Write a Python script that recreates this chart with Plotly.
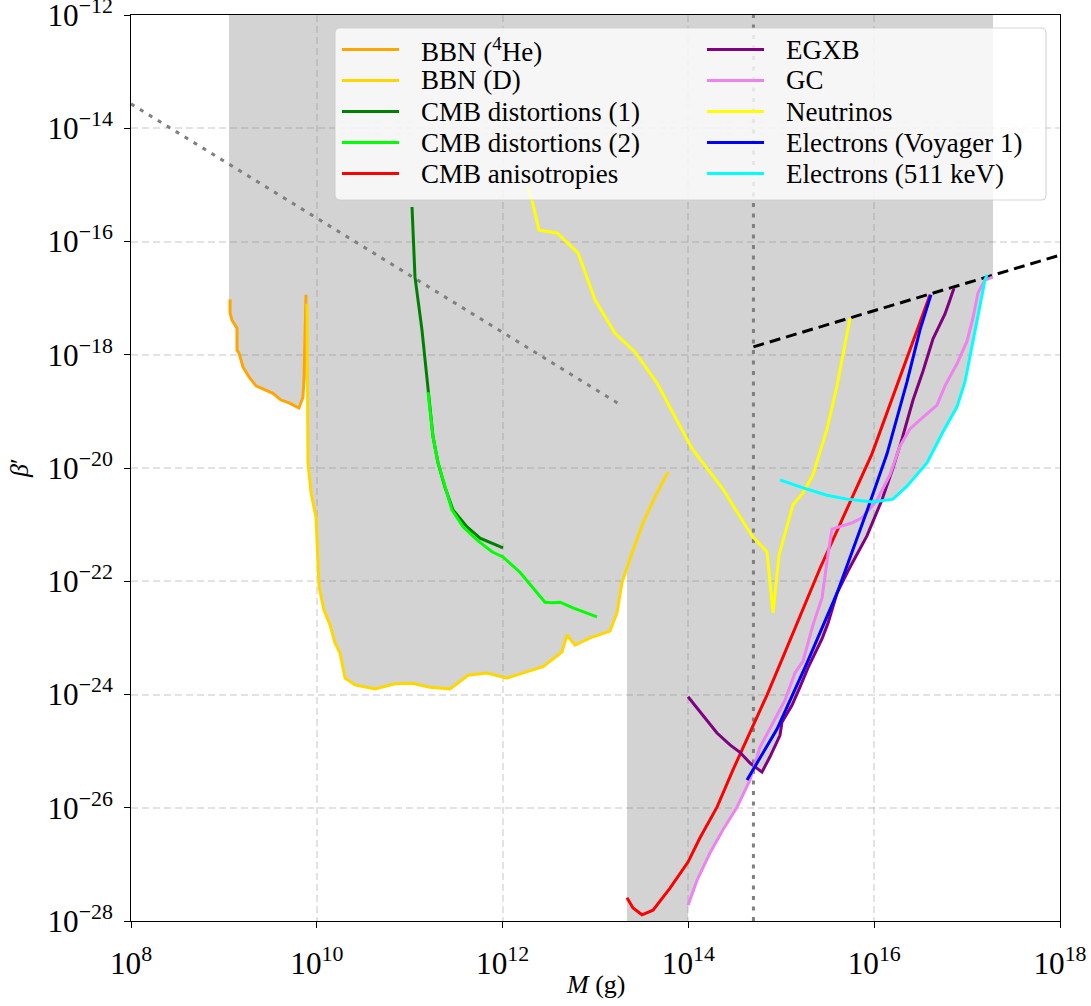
import numpy as np
import plotly.graph_objects as go

# ---- data (log10 M [g], log10 beta') ----
he4_logM = [9.066, 9.066, 9.087, 9.141, 9.141, 9.163, 9.206, 9.270, 9.346, 9.528, 9.615, 9.701, 9.808, 9.851, 9.862, 9.884]
he4_logB = [-17.02, -17.26, -17.39, -17.53, -17.92, -17.97, -18.22, -18.39, -18.55, -18.68, -18.80, -18.85, -18.94, -18.75, -18.45, -16.94]

d_logM = [9.894, 9.905, 9.938, 9.991, 10.024, 10.077, 10.142, 10.196, 10.250, 10.304, 10.411, 10.626, 10.842, 11.025,
          11.218, 11.434, 11.628, 11.832, 12.047, 12.435, 12.639, 12.693, 12.779, 12.941, 13.156, 13.231, 13.285, 13.404,
          13.511, 13.640, 13.780]
d_logB = [-17.10, -19.91, -20.44, -20.87, -22.10, -22.51, -22.77, -23.09, -23.27, -23.71, -23.83, -23.90, -23.81, -23.80,
          -23.87, -23.90, -23.66, -23.62, -23.71, -23.51, -23.25, -22.95, -23.13, -23.00, -22.88, -22.56, -22.03, -21.45,
          -20.97, -20.51, -20.07]

cmb1_logM = [11.025, 11.057, 11.132, 11.197, 11.251, 11.305, 11.380, 11.466, 11.617, 11.757, 12.004]
cmb1_logB = [-15.39, -16.63, -17.56, -18.62, -19.45, -19.91, -20.34, -20.74, -21.04, -21.24, -21.41]

cmb2_logM = [11.197, 11.251, 11.305, 11.455, 11.574, 11.724, 11.886, 12.004, 12.187, 12.370, 12.456, 12.532, 12.618, 12.758, 13.016]
cmb2_logB = [-18.66, -19.45, -19.91, -20.74, -21.04, -21.27, -21.48, -21.57, -21.84, -22.21, -22.37, -22.38, -22.37, -22.47, -22.63]

aniso_logM = [13.339, 13.404, 13.501, 13.619, 13.802, 13.996, 14.125, 14.308, 14.480, 14.663, 14.846, 15.018, 15.201, 15.417, 15.976, 16.601]
aniso_logB = [-27.59, -27.77, -27.89, -27.81, -27.42, -26.96, -26.53, -25.99, -25.33, -24.68, -24.01, -23.34, -22.63, -21.77, -19.75, -16.94]

egxb_logM = [13.996, 14.092, 14.200, 14.308, 14.448, 14.555, 14.663, 14.792, 14.878, 14.986, 15.007, 15.115, 15.201, 15.287,
             15.438, 15.503, 15.600, 15.718, 15.922, 16.084, 16.202, 16.299, 16.418, 16.525, 16.633, 16.762, 16.816, 16.859]
egxb_logB = [-24.04, -24.24, -24.45, -24.68, -24.89, -25.02, -25.21, -25.37, -25.10, -24.72, -24.49, -24.19, -23.87, -23.53,
             -23.02, -22.74, -22.21, -21.82, -21.20, -20.56, -20.00, -19.49, -18.80, -18.29, -17.72, -17.28, -17.03, -16.82]

gc_logM = [13.996, 14.093, 14.232, 14.372, 14.523, 14.663, 14.771, 14.911, 15.040, 15.147, 15.234, 15.341, 15.438, 15.503,
           15.546, 15.761, 15.869, 16.030, 16.170, 16.278, 16.385, 16.493, 16.676, 16.762, 16.891, 16.999, 17.063, 17.117,
           17.192, 17.279]
gc_logB = [-27.72, -27.28, -26.80, -26.39, -25.99, -25.51, -24.93, -24.50, -24.10, -23.62, -23.41, -22.77, -22.30, -21.52,
           -21.08, -20.97, -20.88, -20.57, -20.12, -19.61, -19.31, -19.15, -18.89, -18.55, -18.16, -17.76, -17.35, -16.91,
           -16.68, -16.63]

nu_logM = [12.263, 12.316, 12.392, 12.586, 12.812, 12.995, 13.210, 13.425, 13.662, 13.888, 14.039, 14.362, 14.685, 14.846,
           14.911, 14.975, 15.126, 15.234, 15.341, 15.492, 15.600, 15.740]
nu_logB = [-15.02, -15.27, -15.80, -15.85, -16.20, -17.03, -17.62, -17.95, -18.50, -19.21, -19.66, -20.35, -21.20, -21.48,
           -22.56, -21.54, -20.65, -20.44, -20.12, -19.31, -18.55, -17.35]

voy_logM = [14.631, 14.954, 15.277, 15.600, 15.922, 16.138, 16.353, 16.493, 16.611]
voy_logB = [-25.51, -24.61, -23.44, -22.21, -20.76, -19.75, -18.48, -17.56, -16.94]

kev_logM = [14.986, 15.234, 15.492, 15.707, 15.987, 16.202, 16.353, 16.568, 16.741, 16.891, 16.977, 17.031, 17.085, 17.139, 17.193, 17.214]
kev_logB = [-20.21, -20.35, -20.48, -20.55, -20.60, -20.55, -20.32, -19.91, -19.36, -18.92, -18.48, -18.04, -17.60, -17.10, -16.68, -16.59]

# reference lines
evap_logM = [14.70, 14.70]
evap_logB = [-28.0, -12.0]
diag_logM = [8.0, 13.285]
diag_logB = [-13.57, -18.90]
dash_logM = [14.70, 18.0]
dash_logB = [-17.86, -16.24]

# edges of the excluded (grey) region
fill_left_logM = 9.055
fill_gap_logM = 13.339
fill_right_logM = 17.279
y_top, y_bot = -12.0, -28.0

x_title = "<i>M</i> (g)"
y_title = "<i>β</i>′"

series = [
    ("BBN (<sup>4</sup>He)", he4_logM, he4_logB, "#FFA500"),
    ("BBN (D)", d_logM, d_logB, "#FFD700"),
    ("CMB distortions (1)", cmb1_logM, cmb1_logB, "#008000"),
    ("CMB distortions (2)", cmb2_logM, cmb2_logB, "#00FF00"),
    ("CMB anisotropies", aniso_logM, aniso_logB, "#FF0000"),
    ("EGXB", egxb_logM, egxb_logB, "#800080"),
    ("GC", gc_logM, gc_logB, "#EE82EE"),
    ("Neutrinos", nu_logM, nu_logB, "#FFFF00"),
    ("Electrons (Voyager 1)", voy_logM, voy_logB, "#0000FF"),
    ("Electrons (511 keV)", kev_logM, kev_logB, "#00FFFF"),
]

def p10(a):
    return [10.0 ** v for v in a]

# ---- excluded-region polygon, built in log space from the curves ----
poly = [(fill_left_logM, y_top), (fill_left_logM, he4_logB[0])]
for m, b in zip(he4_logM[:15], he4_logB[:15]):
    poly.append((m, b))
poly.append((d_logM[1] - 0.005, he4_logB[14]))
for m, b in zip(d_logM[1:], d_logB[1:]):
    if m < fill_gap_logM:
        poly.append((m, b))
poly.append((fill_gap_logM, float(np.interp(fill_gap_logM, d_logM, d_logB))))
poly.append((fill_gap_logM, y_bot))
poly.append((gc_logM[0], y_bot))
grid = np.linspace(gc_logM[0], fill_right_logM, 3000)
env_curves = [(gc_logM, gc_logB), (egxb_logM, egxb_logB), (voy_logM, voy_logB), (kev_logM, kev_logB), (aniso_logM, aniso_logB)]
stack = np.vstack([np.interp(grid, m, b, left=np.inf, right=np.inf) for m, b in env_curves])
env = stack.min(axis=0)
for m, b in zip(grid, env):
    poly.append((float(m), float(b)))
poly.append((fill_right_logM, y_top))
path = "M " + " L ".join(f"{10**m:.6e},{10**b:.6e}" for m, b in poly) + " Z"

W, H = 1091, 1006
ML, MR, MT, MB = 131, 31, 15, 85
PW, PH = W - ML - MR, H - MT - MB

def px(x):
    return (x - ML) / PW

def py(y):
    return 1 - (y - MT) / PH

fig = go.Figure()

fig.add_shape(type="path", path=path, xref="x", yref="y", layer="below",
              fillcolor="#d3d3d3", line=dict(width=0))

# reference lines
fig.add_trace(go.Scatter(x=p10(diag_logM), y=p10(diag_logB), mode="lines", showlegend=False, hoverinfo="skip",
                         line=dict(color="#808080", width=3, dash="4px,6.5px")))
fig.add_trace(go.Scatter(x=p10(evap_logM), y=p10(evap_logB), mode="lines", showlegend=False, hoverinfo="skip",
                         line=dict(color="#808080", width=3, dash="4px,6.5px")))
fig.add_trace(go.Scatter(x=p10(dash_logM), y=p10(dash_logB), mode="lines", showlegend=False, hoverinfo="skip",
                         line=dict(color="#000000", width=3, dash="11px,6px")))

for name, lm, lb, col in series:
    fig.add_trace(go.Scatter(x=p10(lm), y=p10(lb), mode="lines", name=name, showlegend=False,
                             line=dict(color=col, width=3)))

font_family = "Liberation Serif"

# ---- legend box (two columns, like the reference) ----
bx0, bx1, by0, by1, r = 335, 1046, 28, 200, 5
rx, ry = r / PW, r / PH
X0, X1, Y0, Y1 = px(bx0), px(bx1), py(by0), py(by1)
legend_path = (f"M {X0+rx},{Y0} L {X1-rx},{Y0} Q {X1},{Y0} {X1},{Y0-ry} L {X1},{Y1+ry} Q {X1},{Y1} {X1-rx},{Y1} "
               f"L {X0+rx},{Y1} Q {X0},{Y1} {X0},{Y1+ry} L {X0},{Y0-ry} Q {X0},{Y0} {X0+rx},{Y0} Z")
fig.add_shape(type="path", path=legend_path, xref="paper", yref="paper", layer="above",
              fillcolor="rgba(255,255,255,0.8)", line=dict(color="rgba(204,204,204,0.8)", width=1.2))
row_y = [49.5, 80.5, 111.5, 142.5, 173.5]
col_line = [(342, 399), (707, 764)]
col_text = [419, 784]
for i, (name, lm, lb, col) in enumerate(series):
    c, rr = divmod(i, 5)
    yy = py(row_y[rr])
    fig.add_shape(type="line", xref="paper", yref="paper", layer="above",
                  x0=px(col_line[c][0]), x1=px(col_line[c][1]), y0=yy, y1=yy,
                  line=dict(color=col, width=3))
    fig.add_annotation(x=px(col_text[c]), y=yy, xref="paper", yref="paper", text=name, showarrow=False,
                       xanchor="left", yanchor="middle", font=dict(family=font_family, size=27, color="black"))

# axis titles
fig.add_annotation(x=0.5, y=py(985), xref="paper", yref="paper", text=x_title, showarrow=False,
                   xanchor="center", yanchor="middle", font=dict(family=font_family, size=26, color="black"))
fig.add_annotation(x=px(19), y=0.5, xref="paper", yref="paper", text=y_title, showarrow=False, textangle=-90,
                   xanchor="center", yanchor="middle", font=dict(family=font_family, size=26, color="black"))

axis_common = dict(
    type="log", showline=True, mirror=True, linecolor="black", linewidth=1.2,
    ticks="outside", ticklen=6, tickwidth=1.2, tickcolor="black",
    dtick=2, exponentformat="power", showexponent="all", automargin=False,
    showgrid=True, gridcolor="rgba(128,128,128,0.22)", gridwidth=1.6, griddash="7px,4px",
    zeroline=False, tickfont=dict(family=font_family, size=25, color="black"),
    ticklabeloverflow="allow",
)

fig.update_layout(
    width=W, height=H,
    margin=dict(l=ML, r=MR, t=MT, b=MB),
    plot_bgcolor="white", paper_bgcolor="white",
    font=dict(family=font_family, color="black"),
    showlegend=False,
    xaxis=dict(range=[8, 18], ticklabelstandoff=10, **axis_common),
    yaxis=dict(range=[-28, -12], ticklabelstandoff=6, **axis_common),
)

fig.write_html("out.html", config={"displayModeBar": False},
               post_script="document.body.style.margin='0';document.body.style.overflow='hidden';")
